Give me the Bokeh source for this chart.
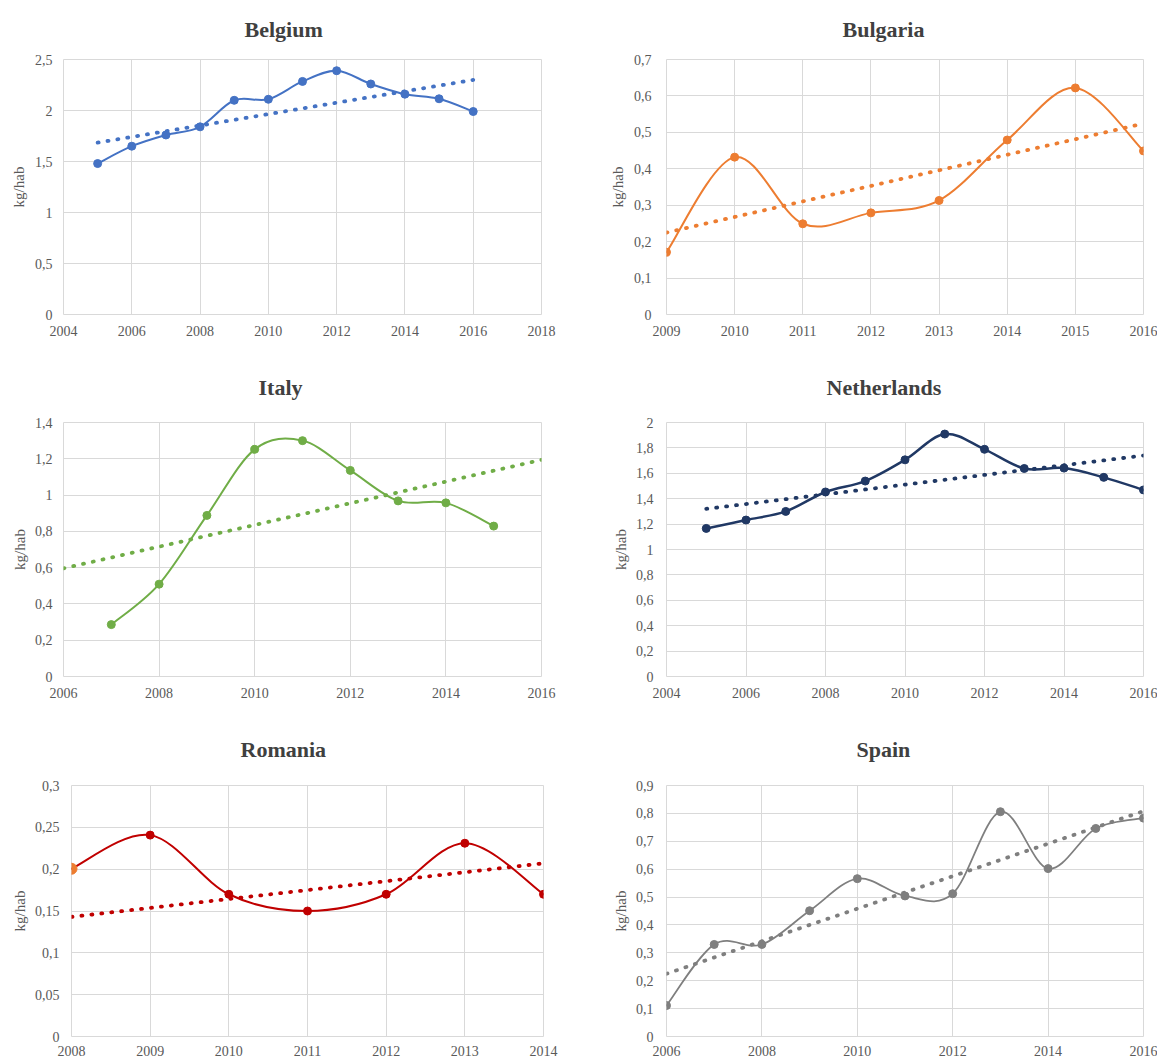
import numpy as np
from bokeh.plotting import figure
from bokeh.models import Range1d, FixedTicker, CustomJSTickFormatter
from bokeh.layouts import column, row
from bokeh.embed import file_html
from bokeh.resources import INLINE

# ---------------- data ----------------
be_years = [2005, 2006, 2007, 2008, 2009, 2010, 2011, 2012, 2013, 2014, 2015, 2016]
be_vals = [1.48, 1.65, 1.76, 1.84, 2.10, 2.11, 2.285, 2.39, 2.26, 2.16, 2.115, 1.99]
be_trend_years = [2005, 2016]
be_trend_vals = [1.685, 2.30]
be_xticks = [2004, 2006, 2008, 2010, 2012, 2014, 2016, 2018]
be_yticks = [0, 0.5, 1, 1.5, 2, 2.5]

bg_years = [2009, 2010, 2011, 2012, 2013, 2014, 2015, 2016]
bg_vals = [0.171, 0.432, 0.249, 0.279, 0.313, 0.479, 0.622, 0.449]
bg_trend_years = [2009, 2016]
bg_trend_vals = [0.225, 0.524]
bg_xticks = [2009, 2010, 2011, 2012, 2013, 2014, 2015, 2016]
bg_yticks = [0, 0.1, 0.2, 0.3, 0.4, 0.5, 0.6, 0.7]

it_years = [2007, 2008, 2009, 2010, 2011, 2012, 2013, 2014, 2015]
it_vals = [0.286, 0.509, 0.888, 1.252, 1.30, 1.136, 0.968, 0.957, 0.829]
it_trend_years = [2006, 2016]
it_trend_vals = [0.596, 1.194]
it_xticks = [2006, 2008, 2010, 2012, 2014, 2016]
it_yticks = [0, 0.2, 0.4, 0.6, 0.8, 1.0, 1.2, 1.4]

nl_years = [2005, 2006, 2007, 2008, 2009, 2010, 2011, 2012, 2013, 2014, 2015, 2016]
nl_vals = [1.166, 1.232, 1.30, 1.453, 1.539, 1.706, 1.909, 1.789, 1.638, 1.641, 1.568, 1.469]
nl_trend_years = [2005, 2016]
nl_trend_vals = [1.32, 1.74]
nl_xticks = [2004, 2006, 2008, 2010, 2012, 2014, 2016]
nl_yticks = [0, 0.2, 0.4, 0.6, 0.8, 1.0, 1.2, 1.4, 1.6, 1.8, 2.0]

ro_years = [2008, 2009, 2010, 2011, 2012, 2013, 2014]
ro_vals = [0.2005, 0.2407, 0.170, 0.150, 0.170, 0.231, 0.170]
ro_trend_years = [2008, 2014]
ro_trend_vals = [0.143, 0.207]
ro_xticks = [2008, 2009, 2010, 2011, 2012, 2013, 2014]
ro_yticks = [0, 0.05, 0.1, 0.15, 0.2, 0.25, 0.3]

es_years = [2006, 2007, 2008, 2009, 2010, 2011, 2012, 2013, 2014, 2015, 2016]
es_vals = [0.111, 0.330, 0.330, 0.451, 0.566, 0.504, 0.512, 0.806, 0.602, 0.746, 0.783]
es_trend_years = [2006, 2016]
es_trend_vals = [0.225, 0.808]
es_xticks = [2006, 2008, 2010, 2012, 2014, 2016]
es_yticks = [0, 0.1, 0.2, 0.3, 0.4, 0.5, 0.6, 0.7, 0.8, 0.9]

FONT = "Liberation Serif"
TICK_COLOR = "#595959"
GRID_COLOR = "#D9D9D9"


def smooth_segments(xs, ys):
    """Bezier control points for a spreadsheet-style smoothed line."""
    P = np.column_stack([np.asarray(xs, float), np.asarray(ys, float)])
    n = len(P)
    Q = np.vstack([P[:1], P, P[-1:]])
    t0 = (Q[2:n + 1] - Q[0:n - 1]) / 6.0
    t1 = (Q[3:n + 2] - Q[1:n]) / 6.0
    a = P[:-1]
    b = P[1:]
    c0 = a + t0
    c1 = b - t1
    return dict(x0=a[:, 0], y0=a[:, 1], x1=b[:, 0], y1=b[:, 1],
                cx0=c0[:, 0], cy0=c0[:, 1], cx1=c1[:, 0], cy1=c1[:, 1])


def make_panel(title, years, vals, tyears, tvals, xticks, yticks, color,
               width, height, bl, br, bt, bb, ystand, lstand, title_off, title_standoff,
               lw=2.0, xstand=11, title_valign="bottom"):
    p = figure(width=width, height=height, output_backend="svg", toolbar_location=None,
               x_range=Range1d(xticks[0], xticks[-1]), y_range=Range1d(yticks[0], yticks[-1]),
               min_border_left=bl, min_border_right=br, min_border_top=bt, min_border_bottom=bb,
               background_fill_color="white", border_fill_color="white")
    p.outline_line_color = GRID_COLOR
    p.outline_line_width = 1

    p.title.text = title
    p.title.align = "left"
    p.title.vertical_align = title_valign
    p.title.offset = title_off
    p.title.standoff = title_standoff
    p.title.text_font = FONT
    p.title.text_font_style = "bold"
    p.title.text_font_size = "22px"
    p.title.text_color = "#404040"

    p.xaxis.ticker = FixedTicker(ticks=xticks)
    p.yaxis.ticker = FixedTicker(ticks=yticks)
    p.xaxis.formatter = CustomJSTickFormatter(code="return tick.toFixed(0);")
    p.yaxis.formatter = CustomJSTickFormatter(
        code="return (Math.round(tick*1000)/1000).toString().replace('.', ',');")
    for ax in (p.xaxis[0], p.yaxis[0]):
        ax.axis_line_color = None
        ax.major_tick_line_color = None
        ax.minor_tick_line_color = None
        ax.major_tick_out = 0
        ax.major_tick_in = 0
        ax.major_label_text_font = FONT
        ax.major_label_text_font_size = "14px"
        ax.major_label_text_color = TICK_COLOR
    p.xaxis.major_label_standoff = xstand
    p.yaxis.major_label_standoff = ystand
    p.yaxis.axis_label = "kg/hab"
    p.yaxis.axis_label_text_font = FONT
    p.yaxis.axis_label_text_font_size = "15px"
    p.yaxis.axis_label_text_font_style = "normal"
    p.yaxis.axis_label_text_color = TICK_COLOR
    p.yaxis.axis_label_standoff = lstand

    p.xgrid.ticker = FixedTicker(ticks=xticks)
    p.ygrid.ticker = FixedTicker(ticks=yticks)
    p.xgrid.grid_line_color = GRID_COLOR
    p.ygrid.grid_line_color = GRID_COLOR
    p.xgrid.grid_line_width = 1
    p.ygrid.grid_line_width = 1

    # dotted linear trend line
    p.line(tyears, tvals, line_color=color, line_width=3.8, line_dash="1 9", line_cap="round")
    # smoothed data line
    seg = smooth_segments(years, vals)
    p.bezier(x0=seg["x0"], y0=seg["y0"], x1=seg["x1"], y1=seg["y1"],
             cx0=seg["cx0"], cy0=seg["cy0"], cx1=seg["cx1"], cy1=seg["cy1"],
             line_color=color, line_width=lw, line_cap="round")
    return p


W1, W2 = 583, 574
H1, H2, H3 = 342, 362, 358

p_be = make_panel("Belgium", be_years, be_vals, be_trend_years, be_trend_vals, be_xticks, be_yticks,
                  "#4472C4", W1, H1, 63, 42, 59, 28, 11, 5, 181, 32, title_valign="top")
p_be.scatter(be_years, be_vals, size=8, color="#4472C4")

p_bg = make_panel("Bulgaria", bg_years, bg_vals, bg_trend_years, bg_trend_vals, bg_xticks, bg_yticks,
                  "#ED7D31", W2, H1, 83, 14, 59, 28, 15, 5, 176, 32, title_valign="top")
p_bg.scatter(bg_years, bg_vals, size=8, color="#ED7D31")

p_it = make_panel("Italy", it_years, it_vals, it_trend_years, it_trend_vals, it_xticks, it_yticks,
                  "#70AD47", W1, H2, 63, 42, 80, 28, 11, 4, 195, 46)
p_it.scatter(it_years, it_vals, size=8, color="#70AD47")

p_nl = make_panel("Netherlands", nl_years, nl_vals, nl_trend_years, nl_trend_vals, nl_xticks, nl_yticks,
                  "#203864", W2, H2, 83, 14, 80, 28, 13, 4, 160, 46, lw=2.5)
p_nl.scatter(nl_years, nl_vals, size=8, color="#203864")

p_ro = make_panel("Romania", ro_years, ro_vals, ro_trend_years, ro_trend_vals, ro_xticks, ro_yticks,
                  "#C00000", W1, H3, 71, 40, 81, 26, 12, 4, 169, 48, xstand=9)
p_ro.scatter(ro_years[1:], ro_vals[1:], size=8, color="#C00000")
p_ro.scatter(ro_years[:1], ro_vals[:1], size=11, color="#ED7D31")

p_es = make_panel("Spain", es_years, es_vals, es_trend_years, es_trend_vals, es_xticks, es_yticks,
                  "#7F7F7F", W2, H3, 83, 14, 81, 26, 13, 4, 190, 48, lw=1.75, xstand=9)
p_es.scatter(es_years, es_vals, size=8, color="#7F7F7F")

layout = column(row(p_be, p_bg), row(p_it, p_nl), row(p_ro, p_es))

open("out.html", "w").write(file_html(layout, INLINE))
